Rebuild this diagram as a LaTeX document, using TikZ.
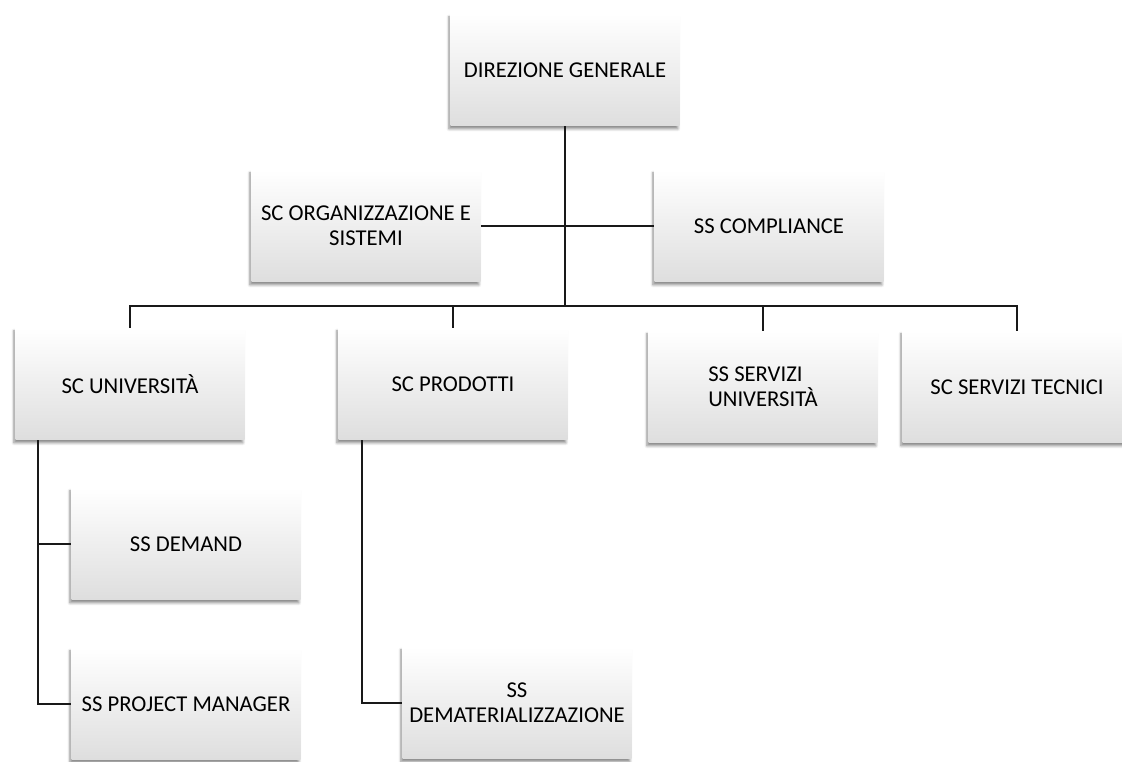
\documentclass[tikz,border=0pt]{standalone}
\usepackage{fontspec}
\setmainfont{Carlito}
\usetikzlibrary{shadows.blur}
\begin{document}
\begin{tikzpicture}[x=0.75pt,y=-0.75pt,
  box/.style={rectangle, minimum width=171.75pt, minimum height=84pt, inner sep=0pt,
    top color=white, middle color=white, bottom color=black!13,
    blur shadow={shadow blur steps=6, shadow xshift=-1.2pt, shadow yshift=-2.2pt, shadow opacity=45},
    font=\fontsize{17}{19}\selectfont, align=center},
  link/.style={draw=black!90, line width=1.4pt}]
\path[use as bounding box, clip] (0,0) rectangle (1122,762);
\node[box] (dg) at (565,70) {DIREZIONE GENERALE};
\node[box] (org) at (366,226) {SC ORGANIZZAZIONE E\\SISTEMI};
\node[box] (comp) at (769,226) {SS COMPLIANCE};
\node[box] (uni) at (130,384) {SC UNIVERSITÀ};
\node[box] (prod) at (453,384) {SC PRODOTTI};
\node[box, align=left] (ssu) at (763,387) {SS SERVIZI\\UNIVERSITÀ};
\node[box] (sst) at (1017,387) {SC SERVIZI TECNICI};
\node[box] (dem) at (186,544) {SS DEMAND};
\node[box] (pm) at (186,704) {SS PROJECT MANAGER};
\node[box] (demat) at (517,703) {SS\\DEMATERIALIZZAZIONE};
\coordinate (bus) at (0,306);
\coordinate (uspine) at (38,0);
\coordinate (pspine) at (362,0);
\draw[link] (dg.south) -- (dg.south |- bus);
\draw[link] (org.east) -- (comp.west);
\draw[link] (uni.north) -- (uni.north |- bus) -- (sst.north |- bus) -- (sst.north);
\draw[link] (prod.north) -- (prod.north |- bus);
\draw[link] (ssu.north) -- (ssu.north |- bus);
\draw[link] (uni.south -| uspine) -- (pm.west -| uspine) -- (pm.west);
\draw[link] (dem.west -| uspine) -- (dem.west);
\draw[link] (prod.south -| pspine) -- (demat.west -| pspine) -- (demat.west);
\end{tikzpicture}
\end{document}
